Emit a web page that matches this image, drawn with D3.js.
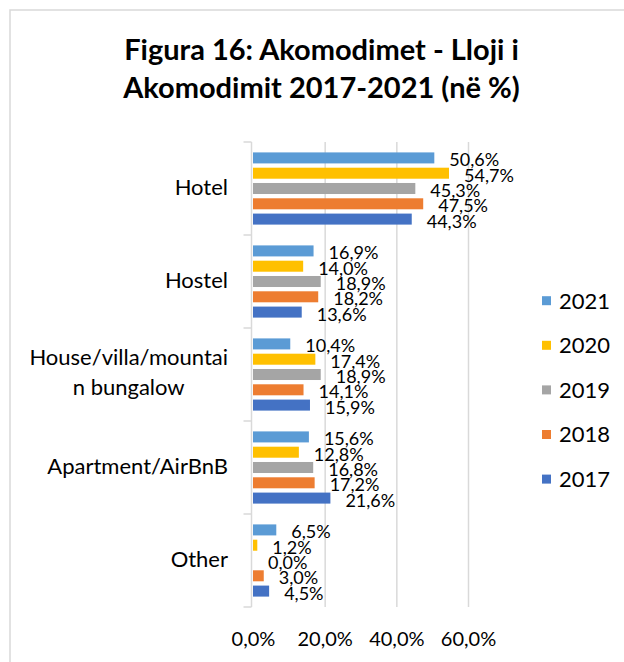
<!DOCTYPE html>
<html>

<head>
    <meta charset='utf-8'>
    <title>Akomodimet</title>
    <script type='text/javascript' src='https://cdn.jsdelivr.net/npm/d3@7/dist/d3.min.js'></script>
    <style>
        body { margin: 0; background: #fff; }
        text { font-family: Lato, 'Open Sans', sans-serif; fill: #000; }
    </style>
</head>

<body>
    <svg width='624' height='662'></svg>
    <script type='text/javascript'>

        // data
        const categories = ['Hotel', 'Hostel', 'House/villa/mountain bungalow', 'Apartment/AirBnB', 'Other']
        const years = ['2021', '2020', '2019', '2018', '2017']
        const colors = ['#5B9BD5', '#FFC000', '#A5A5A5', '#ED7D31', '#4472C4']
        const v2021 = [50.6, 16.9, 10.4, 15.6, 6.5]
        const v2020 = [54.7, 14.0, 17.4, 12.8, 1.2]
        const v2019 = [45.3, 18.9, 18.9, 16.8, 0.0]
        const v2018 = [47.5, 18.2, 14.1, 17.2, 3.0]
        const v2017 = [44.3, 13.6, 15.9, 21.6, 4.5]
        const xTicks = [0, 20, 40, 60]
        // the long label wraps like in the original
        const catLines = [['Hotel'], ['Hostel'], ['House/villa/mountai', 'n bungalow'], ['Apartment/AirBnB'], ['Other']]

        const series = [v2021, v2020, v2019, v2018, v2017]
        const svg = d3.select('svg')
        const fmt = d => d3.format('.1f')(d).replace('.', ',') + '%'

        // chart frame
        svg.append('rect')
            .attr('x', 10).attr('y', 10)
            .attr('width', 700).attr('height', 700)
            .attr('fill', 'none')
            .attr('stroke', '#d9d9d9')
            .attr('stroke-width', 1.5)

        // title
        const title = svg.append('text')
            .attr('text-anchor', 'middle')
            .style('font-weight', 'bold')
            .style('font-size', '29px')
        title.append('tspan').attr('x', 321.5).attr('y', 60).text('Figura 16: Akomodimet - Lloji i')
        title.append('tspan').attr('x', 321.5).attr('y', 98).text('Akomodimit 2017-2021 (në %)')

        const x = d3.scaleLinear().domain([0, 60]).range([253, 468])
        const y0 = d3.scaleBand().domain(categories).range([142, 607])
        const y1 = d3.scaleBand().domain(years).range([0, y0.bandwidth()])
            .paddingInner(0.28).paddingOuter(0.68)
        const color = d3.scaleOrdinal(years, colors)

        // gridlines
        svg.append('g')
            .attr('transform', 'translate(0,607)')
            .call(d3.axisBottom(x).tickValues([20, 40, 60]).tickSize(-(607 - 142)).tickFormat(''))
            .call(g => g.select('.domain').remove())
            .call(g => g.selectAll('line').attr('stroke', '#d9d9d9').attr('stroke-width', 1.5))

        // x tick labels
        svg.append('g')
            .attr('transform', 'translate(0,607)')
            .call(d3.axisBottom(x).tickValues(xTicks).tickSize(0).tickPadding(25).tickFormat(fmt))
            .call(g => g.select('.domain').remove())
            .call(g => g.selectAll('text').style('font-size', '20px').attr('fill', '#000'))

        // y axis line and boundary ticks
        const yAxis = svg.append('g').attr('stroke', '#d9d9d9').attr('stroke-width', 1.5)
        yAxis.append('line')
            .attr('x1', 251.5).attr('x2', 251.5)
            .attr('y1', y0.range()[0]).attr('y2', y0.range()[1])
        const bounds = categories.map(c => y0(c)).concat([y0.range()[1]])
        yAxis.selectAll('.tk')
            .data(bounds)
            .join('line')
            .attr('x1', 243.5).attr('x2', 251.5)
            .attr('y1', d => d).attr('y2', d => d)

        // category labels
        const catG = svg.append('g').style('font-size', '22px')
        catLines.forEach((lines, i) => {
            const cy = y0(categories[i]) + y0.bandwidth() / 2
            const t = catG.append('text').attr('text-anchor', 'middle')
            lines.forEach((l, j) => {
                t.append('tspan')
                    .attr('y', lines.length > 1 ? cy - 9.5 + j * 30 : cy + 6.5)
                    .text(l)
            })
            // right-align the block at the axis, lines centred on each other
            let w = 0
            t.selectAll('tspan').each(function () { w = Math.max(w, this.getComputedTextLength()) })
            t.selectAll('tspan').attr('x', 228 - w / 2)
        })

        // bars
        const groups = svg.append('g')
            .selectAll('g')
            .data(categories)
            .join('g')
            .attr('transform', c => `translate(0,${y0(c)})`)

        groups.selectAll('rect')
            .data((c, i) => years.map((yr, k) => ({ yr: yr, v: series[k][i] })))
            .join('rect')
            .attr('x', x(0))
            .attr('y', d => y1(d.yr))
            .attr('width', d => x(d.v) - x(0))
            .attr('height', y1.bandwidth())
            .attr('fill', d => color(d.yr))

        // data labels
        groups.selectAll('text')
            .data((c, i) => years.map((yr, k) => ({ yr: yr, v: series[k][i] })))
            .join('text')
            .attr('x', d => x(d.v) + 15)
            .attr('y', d => y1(d.yr) + y1.bandwidth() / 2 + 8.5)
            .style('font-size', '18px')
            .text(d => fmt(d.v))

        // legend
        const legend = svg.append('g')
            .selectAll('g')
            .data(years)
            .join('g')
            .attr('transform', (d, i) => `translate(542,${300.7 + i * 44.6})`)
        legend.append('rect')
            .attr('x', 0).attr('y', -4.5)
            .attr('width', 9).attr('height', 9)
            .attr('fill', d => color(d))
        legend.append('text')
            .attr('x', 17).attr('y', 7.8)
            .style('font-size', '22px')
            .text(d => d)
    </script>
</body>

</html>
